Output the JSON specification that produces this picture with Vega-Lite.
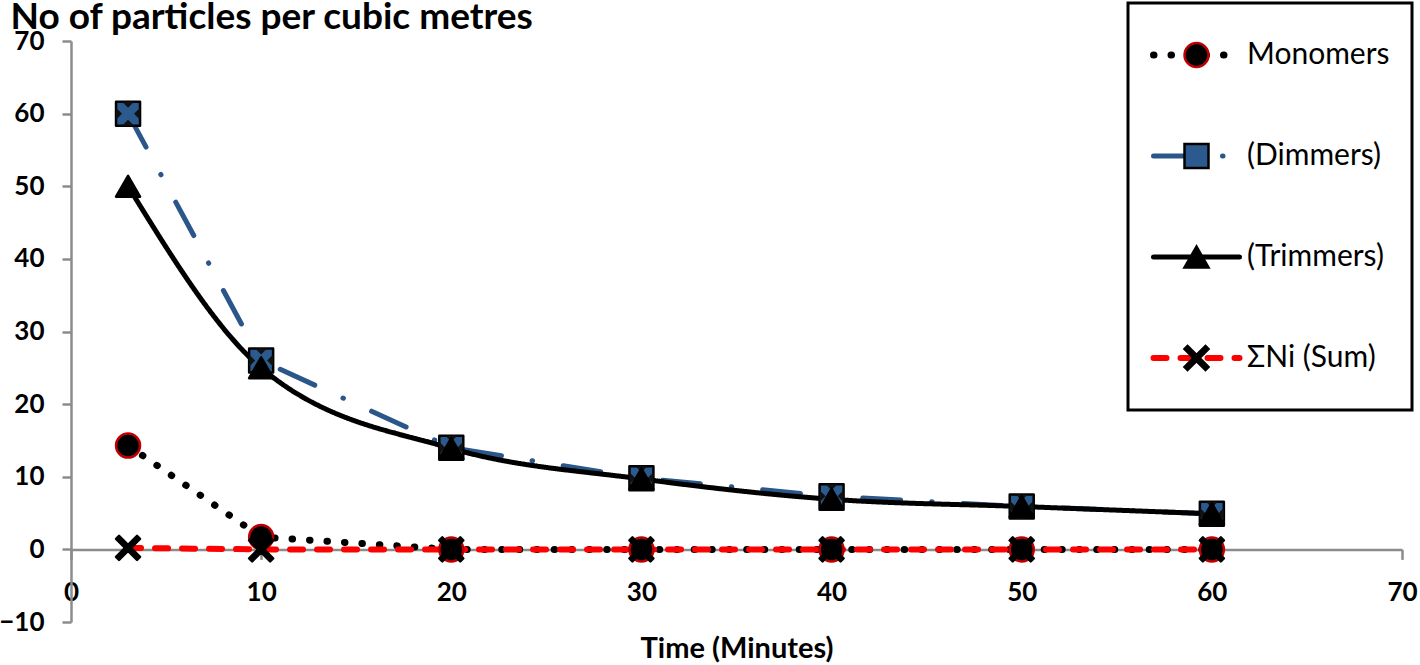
{
  "$schema": "https://vega.github.io/schema/vega-lite/v6.json",
  "width": 1331,
  "height": 581,
  "autosize": {"type": "none"},
  "padding": {"left": 71, "top": 41, "right": 18, "bottom": 43},
  "config": {
    "font": "Lato",
    "view": {"stroke": null},
    "axis": {"grid": false}
  },
  "data": {
    "values": [
      {"t": 3, "series": "Monomers", "marker": "1 Monomers", "value": 14.3},
      {"t": 10, "series": "Monomers", "marker": "1 Monomers", "value": 1.7},
      {"t": 20, "series": "Monomers", "marker": "1 Monomers", "value": 0},
      {"t": 30, "series": "Monomers", "marker": "1 Monomers", "value": 0},
      {"t": 40, "series": "Monomers", "marker": "1 Monomers", "value": 0},
      {"t": 50, "series": "Monomers", "marker": "1 Monomers", "value": 0},
      {"t": 60, "series": "Monomers", "marker": "1 Monomers", "value": 0},
      {"t": 3, "series": "(Dimmers)", "marker": "2 Dimmers", "value": 60},
      {"t": 10, "series": "(Dimmers)", "marker": "2 Dimmers", "value": 26},
      {"t": 20, "series": "(Dimmers)", "marker": "2 Dimmers", "value": 14},
      {"t": 30, "series": "(Dimmers)", "marker": "2 Dimmers", "value": 9.8},
      {"t": 40, "series": "(Dimmers)", "marker": "2 Dimmers", "value": 7.3},
      {"t": 50, "series": "(Dimmers)", "marker": "2 Dimmers", "value": 5.9},
      {"t": 60, "series": "(Dimmers)", "marker": "2 Dimmers", "value": 4.9},
      {"t": 3, "series": "\u00a0(Trimmers)", "marker": "3 Trimmers", "value": 50},
      {"t": 10, "series": "\u00a0(Trimmers)", "marker": "3 Trimmers", "value": 25},
      {"t": 20, "series": "\u00a0(Trimmers)", "marker": "3 Trimmers", "value": 13.9},
      {"t": 30, "series": "\u00a0(Trimmers)", "marker": "3 Trimmers", "value": 9.7},
      {"t": 40, "series": "\u00a0(Trimmers)", "marker": "3 Trimmers", "value": 6.9},
      {"t": 50, "series": "\u00a0(Trimmers)", "marker": "3 Trimmers", "value": 5.9},
      {"t": 60, "series": "\u00a0(Trimmers)", "marker": "3 Trimmers", "value": 4.9},
      {"t": 3, "series": "ΣNi (Sum)", "marker": "4 Sum", "value": 0.2},
      {"t": 10, "series": "ΣNi (Sum)", "marker": "4 Sum", "value": 0},
      {"t": 20, "series": "ΣNi (Sum)", "marker": "4 Sum", "value": 0},
      {"t": 30, "series": "ΣNi (Sum)", "marker": "4 Sum", "value": 0},
      {"t": 40, "series": "ΣNi (Sum)", "marker": "4 Sum", "value": 0},
      {"t": 50, "series": "ΣNi (Sum)", "marker": "4 Sum", "value": 0},
      {"t": 60, "series": "ΣNi (Sum)", "marker": "4 Sum", "value": 0}
    ]
  },
  "encoding": {
    "x": {
      "field": "t",
      "type": "quantitative",
      "scale": {"domain": [0, 70], "nice": false},
      "axis": {
        "title": "Time (Minutes)",
        "values": [0, 10, 20, 30, 40, 50, 60, 70],
        "offset": -72.625,
        "domainColor": "#8c8c8c",
        "domainWidth": 2.5,
        "tickColor": "#8c8c8c",
        "tickWidth": 2.5,
        "tickSize": 10,
        "labelFont": "Lato",
        "labelFontWeight": "bold",
        "labelFontSize": 26,
        "labelColor": "black",
        "labelPadding": 20,
        "labelFlush": false,
        "labelOverlap": false,
        "titleFont": "Lato",
        "titleFontSize": 29,
        "titleFontWeight": "bold",
        "titleColor": "black",
        "titleY": 108,
        "titleBaseline": "alphabetic"
      }
    },
    "y": {
      "field": "value",
      "type": "quantitative",
      "scale": {"domain": [-10, 70], "nice": false},
      "axis": {
        "title": "No of particles per cubic metres",
        "values": [-10, 0, 10, 20, 30, 40, 50, 60, 70],
        "domainColor": "#8c8c8c",
        "domainWidth": 2.5,
        "tickColor": "#8c8c8c",
        "tickWidth": 2.5,
        "tickSize": 9,
        "labelFont": "Lato",
        "labelFontWeight": "bold",
        "labelFontSize": 26,
        "labelColor": "black",
        "labelPadding": 18,
        "labelFlush": false,
        "labelOverlap": false,
        "titleFont": "Lato",
        "titleFontSize": 37,
        "titleFontWeight": "bold",
        "titleColor": "black",
        "titleAngle": 0,
        "titleAlign": "left",
        "titleBaseline": "alphabetic",
        "titleX": -61,
        "titleY": -13
      }
    }
  },
  "layer": [
    {
      "transform": [{"filter": {"field": "series", "oneOf": ["Monomers", "(Dimmers)", "ΣNi (Sum)"]}}],
      "mark": {"type": "line", "strokeCap": "round", "strokeJoin": "round", "interpolate": "linear"},
      "encoding": {
        "color": {
          "field": "series",
          "type": "nominal",
          "scale": {
            "domain": ["Monomers", "(Dimmers)", "\u00a0(Trimmers)", "ΣNi (Sum)"],
            "range": ["#000000", "#2A568A", "#000000", "#FF0000"]
          },
          "legend": {
            "orient": "none",
            "legendX": 1057,
            "legendY": -38,
            "direction": "vertical",
            "title": null,
            "symbolType": "stroke",
            "symbolSize": 7396,
            "symbolStrokeWidth": 5,
            "padding": 22,
            "clipHeight": 60,
            "rowPadding": 41,
            "labelFont": "Lato",
            "labelFontSize": 30,
            "labelColor": "black",
            "labelOffset": 4,
            "labelLimit": 300,
            "strokeColor": "black",
            "encoding": {
              "symbols": {"strokeCap": {"value": "round"}},
              "legend": {"strokeWidth": {"value": 3}}
            }
          }
        },
        "strokeDash": {
          "field": "series",
          "type": "nominal",
          "scale": {
            "domain": ["Monomers", "(Dimmers)", "\u00a0(Trimmers)", "ΣNi (Sum)"],
            "range": [[0.5, 17], [38, 31, 0.5, 31], [1, 0], [13, 14]]
          }
        },
        "strokeWidth": {
          "field": "series",
          "type": "ordinal",
          "scale": {
            "type": "ordinal",
            "domain": ["Monomers", "(Dimmers)", "\u00a0(Trimmers)", "ΣNi (Sum)"],
            "range": [7, 5, 5, 6]
          }
        }
      }
    },
    {
      "transform": [{"filter": {"field": "series", "equal": "\u00a0(Trimmers)"}}],
      "mark": {"type": "line", "strokeCap": "round", "strokeJoin": "round", "interpolate": "monotone"},
      "encoding": {
        "color": {
          "field": "series",
          "type": "nominal",
          "scale": {
            "domain": ["Monomers", "(Dimmers)", "\u00a0(Trimmers)", "ΣNi (Sum)"],
            "range": ["#000000", "#2A568A", "#000000", "#FF0000"]
          }
        },
        "strokeDash": {
          "field": "series",
          "type": "nominal",
          "scale": {
            "domain": ["Monomers", "(Dimmers)", "\u00a0(Trimmers)", "ΣNi (Sum)"],
            "range": [[0.5, 17], [38, 31, 0.5, 31], [1, 0], [13, 14]]
          }
        },
        "strokeWidth": {
          "field": "series",
          "type": "ordinal",
          "scale": {
            "type": "ordinal",
            "domain": ["Monomers", "(Dimmers)", "\u00a0(Trimmers)", "ΣNi (Sum)"],
            "range": [7, 5, 5, 6]
          }
        }
      }
    },
    {
      "transform": [{"filter": {"field": "marker", "oneOf": ["1 Monomers", "2 Dimmers"]}}],
      "mark": {"type": "point", "filled": true, "opacity": 1, "size": 576, "strokeWidth": 2.5, "strokeJoin": "round"},
      "encoding": {
        "fill": {
          "field": "marker",
          "type": "nominal",
          "scale": {"range": ["#000000", "#2B5B8E", "#000000", "#000000"]},
          "legend": {
            "orient": "none",
            "legendX": 1057,
            "legendY": -38,
            "direction": "vertical",
            "title": null,
            "symbolSize": 576,
            "symbolStrokeWidth": 2.5,
            "symbolOpacity": 1,
            "symbolOffset": 31.5,
            "padding": 22,
            "clipHeight": 60,
            "rowPadding": 41,
            "labelFont": "Lato",
            "labelFontSize": 30,
            "labelExpr": "''"
          }
        },
        "shape": {
          "field": "marker",
          "type": "nominal",
          "scale": {"range": ["circle", "square", "triangle-up", "M-0.75,-1L0,-0.25L0.75,-1L1,-0.75L0.25,0L1,0.75L0.75,1L0,0.25L-0.75,1L-1,0.75L-0.25,0L-1,-0.75Z"]}
        },
        "stroke": {
          "field": "marker",
          "type": "nominal",
          "scale": {"range": ["#C00000", "#000000", "#000000", "#000000"]}
        }
      }
    },
    {
      "transform": [{"filter": {"field": "marker", "equal": "2 Dimmers"}}],
      "mark": {
        "type": "point",
        "filled": true,
        "opacity": 1,
        "size": 576,
        "strokeWidth": 0,
        "color": "#111111",
        "shape": "M-0.5,-1L0.5,-1L0,-0.5Z M1,-0.5L1,0.5L0.5,0Z M0.5,1L-0.5,1L0,0.5Z M-1,0.5L-1,-0.5L-0.5,0Z"
      }
    },
    {
      "transform": [{"filter": {"field": "marker", "oneOf": ["3 Trimmers", "4 Sum"]}}],
      "mark": {"type": "point", "filled": true, "opacity": 1, "size": 576, "strokeWidth": 2.5, "strokeJoin": "round"},
      "encoding": {
        "shape": {
          "field": "marker",
          "type": "nominal",
          "scale": {"range": ["circle", "square", "triangle-up", "M-0.75,-1L0,-0.25L0.75,-1L1,-0.75L0.25,0L1,0.75L0.75,1L0,0.25L-0.75,1L-1,0.75L-0.25,0L-1,-0.75Z"]}
        },
        "fill": {
          "field": "marker",
          "type": "nominal",
          "scale": {"range": ["#000000", "#2B5B8E", "#000000", "#000000"]}
        },
        "stroke": {
          "field": "marker",
          "type": "nominal",
          "scale": {"range": ["#C00000", "#000000", "#000000", "#000000"]}
        }
      }
    }
  ]
}
